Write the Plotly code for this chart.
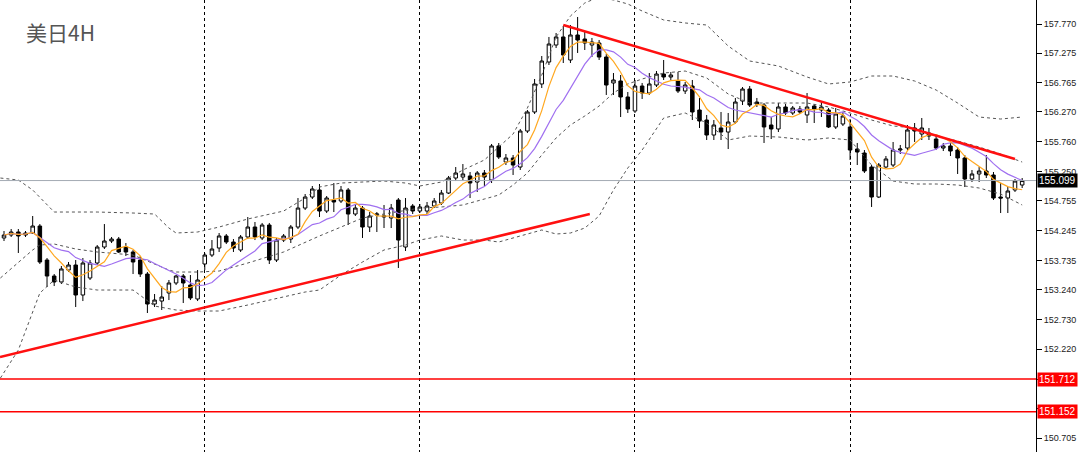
import plotly.graph_objects as go
import pandas as pd

# USD/JPY 4H candles
opens = [154.119, 154.170, 154.221, 154.170, 154.204, 154.323, 153.743, 153.470, 153.368, 153.572,
         153.658, 153.146, 153.436, 153.692, 153.965, 154.067, 154.101, 153.965, 153.880, 153.743,
         153.504, 152.992, 153.043, 153.180, 153.351, 153.470, 153.316, 153.078, 153.675, 153.828,
         153.948, 154.153, 154.050, 153.914, 154.136, 154.306, 154.119, 154.340, 153.743, 154.084,
         154.101, 154.306, 154.630, 154.818, 154.938, 154.579, 154.767, 154.750, 154.938, 154.528,
         154.630, 154.306, 154.511, 154.477, 154.460, 154.767, 153.965, 154.665, 154.579, 154.579,
         154.665, 154.716, 154.886, 155.142, 155.159, 155.177, 155.074, 155.228, 155.108, 155.689,
         155.415, 155.484, 155.330, 155.944, 156.269, 156.747, 157.122, 157.412, 157.549, 157.156,
         157.583, 157.514, 157.412, 157.446, 157.207, 156.764, 156.798, 156.525, 156.286, 156.712,
         156.593, 156.729, 156.917, 156.866, 156.798, 156.627, 156.712, 156.303, 156.132, 155.876,
         155.996, 155.927, 156.098, 156.456, 156.661, 156.439, 156.388, 156.047, 155.979, 156.354,
         156.252, 156.320, 156.218, 156.371, 156.303, 156.303, 156.013, 156.064, 156.013, 155.637,
         155.569, 155.330, 154.818, 155.330, 155.364, 155.620, 155.654, 155.996, 155.893, 155.910,
         155.808, 155.654, 155.689, 155.620, 155.484, 155.125, 155.211, 155.262, 155.194, 154.818,
         154.801, 154.938, 155.023]
highs = [154.238, 154.272, 154.272, 154.238, 154.494, 154.357, 153.777, 153.504, 153.641, 153.709,
         153.743, 153.777, 153.743, 153.999, 154.357, 154.136, 154.136, 154.033, 153.914, 153.811,
         153.538, 153.163, 153.299, 153.402, 153.487, 153.504, 153.487, 153.572, 153.863, 154.084,
         154.204, 154.187, 154.101, 154.170, 154.477, 154.392, 154.375, 154.375, 154.119, 154.187,
         154.340, 154.801, 154.869, 155.006, 155.040, 154.835, 155.057, 155.006, 154.972, 154.682,
         154.665, 154.562, 154.562, 154.682, 154.699, 154.801, 154.801, 154.699, 154.699, 154.733,
         154.801, 154.938, 155.177, 155.330, 155.381, 155.245, 155.262, 155.279, 155.723, 155.740,
         155.552, 155.535, 155.979, 156.303, 156.832, 157.224, 157.549, 157.617, 157.736, 157.753,
         157.890, 157.634, 157.532, 157.497, 157.258, 156.934, 156.900, 156.610, 156.815, 156.764,
         156.934, 156.968, 157.156, 156.951, 156.951, 156.781, 156.815, 156.508, 156.218, 156.132,
         156.269, 156.252, 156.508, 156.695, 156.712, 156.508, 156.422, 156.183, 156.422, 156.405,
         156.371, 156.371, 156.593, 156.405, 156.439, 156.337, 156.337, 156.269, 156.149, 155.740,
         155.620, 155.364, 155.398, 155.518, 155.757, 155.706, 156.047, 156.081, 156.166, 155.996,
         155.876, 155.740, 155.740, 155.671, 155.535, 155.279, 155.330, 155.535, 155.245, 155.057,
         154.989, 155.125, 155.142]
lows = [154.067, 154.136, 153.863, 154.136, 154.187, 153.675, 153.282, 153.299, 153.334, 153.538,
        152.941, 153.043, 153.402, 153.658, 153.931, 154.033, 153.863, 153.811, 153.504, 153.453,
        152.839, 152.941, 152.890, 153.060, 153.316, 153.009, 153.060, 153.043, 153.572, 153.794,
        153.880, 154.016, 153.880, 153.880, 154.101, 154.084, 154.084, 153.675, 153.709, 154.050,
        154.033, 154.272, 154.596, 154.784, 154.477, 154.545, 154.562, 154.716, 154.340, 154.494,
        154.119, 154.221, 154.221, 154.289, 154.289, 153.607, 153.897, 154.528, 154.545, 154.528,
        154.630, 154.682, 154.869, 155.091, 155.108, 154.801, 154.904, 155.006, 155.057, 155.467,
        155.364, 155.194, 155.279, 155.910, 156.235, 156.678, 157.071, 157.361, 157.105, 157.105,
        157.276, 157.327, 157.207, 157.156, 156.559, 156.559, 156.183, 156.252, 156.252, 156.491,
        156.559, 156.695, 156.815, 156.815, 156.593, 156.576, 156.132, 155.996, 155.791, 155.791,
        155.791, 155.637, 156.064, 156.388, 156.354, 156.354, 155.740, 155.808, 155.927, 156.218,
        156.218, 156.235, 156.081, 156.081, 156.183, 155.996, 155.979, 156.030, 155.450, 155.364,
        155.228, 154.648, 154.801, 155.313, 155.330, 155.552, 155.620, 155.757, 155.791, 155.791,
        155.620, 155.603, 155.518, 155.211, 154.989, 155.074, 155.074, 155.142, 154.767, 154.545,
        154.545, 154.904, 154.972]
closes = [154.170, 154.221, 154.153, 154.204, 154.323, 153.709, 153.470, 153.368, 153.590, 153.658,
          153.146, 153.692, 153.692, 153.965, 154.067, 154.101, 153.880, 153.880, 153.709, 153.504,
          152.992, 153.060, 153.112, 153.351, 153.470, 153.351, 153.095, 153.402, 153.828, 153.931,
          154.153, 154.050, 153.948, 154.136, 154.306, 154.136, 154.340, 153.743, 154.084, 154.153,
          154.306, 154.630, 154.818, 154.955, 154.579, 154.801, 154.733, 154.938, 154.528, 154.630,
          154.306, 154.494, 154.528, 154.494, 154.630, 154.084, 154.630, 154.579, 154.648, 154.665,
          154.750, 154.886, 155.142, 155.228, 155.211, 155.057, 155.228, 155.159, 155.689, 155.501,
          155.484, 155.364, 155.944, 156.269, 156.747, 157.139, 157.429, 157.549, 157.241, 157.583,
          157.497, 157.446, 157.463, 157.207, 156.729, 156.815, 156.525, 156.320, 156.712, 156.593,
          156.747, 156.917, 156.866, 156.900, 156.627, 156.729, 156.269, 156.115, 155.876, 156.047,
          155.927, 156.098, 156.439, 156.661, 156.388, 156.405, 156.013, 155.979, 156.354, 156.252,
          156.337, 156.269, 156.354, 156.320, 156.354, 156.013, 156.235, 156.200, 155.620, 155.586,
          155.262, 154.818, 155.364, 155.467, 155.620, 155.637, 155.962, 155.944, 155.996, 155.859,
          155.654, 155.689, 155.603, 155.484, 155.125, 155.211, 155.262, 155.194, 154.801, 154.801,
          154.921, 155.091, 155.099]
bar_idx = list(range(len(closes)))

# Bollinger bands (dotted), sampled along the chart
band_idx = [-0.5, 2, 4, 5, 7, 10, 13, 18, 21, 23, 24, 27, 30, 34, 39, 42, 44, 47, 50, 53,
            56, 58, 61, 64, 67, 69, 71, 73, 75, 77, 79, 81, 83, 85, 87, 89, 92, 95, 98, 101,
            104, 108, 112, 115, 118, 121, 124, 127, 130, 133, 136, 139, 142]
bb_upper = [155.142, 155.108, 154.938, 154.818, 154.562, 154.562, 154.562, 154.545, 154.528, 154.289,
            154.204, 154.221, 154.306, 154.443, 154.579, 154.801, 154.989, 155.057, 155.074, 155.091,
            155.057, 155.006, 155.074, 155.279, 155.450, 155.671, 155.893, 156.337, 156.900, 157.549,
            157.907, 158.129, 158.231, 158.180, 158.112, 157.992, 157.839, 157.788, 157.753, 157.395,
            157.139, 157.054, 156.866, 156.747, 156.781, 156.883, 156.883, 156.798, 156.644, 156.422,
            156.183, 156.149, 156.183]
bb_mid = [153.436, 153.709, 153.914, 153.999, 154.016, 153.931, 153.880, 153.828, 153.675, 153.572,
          153.538, 153.538, 153.555, 153.692, 153.880, 154.050, 154.153, 154.306, 154.460, 154.528,
          154.596, 154.630, 154.648, 154.682, 154.784, 154.852, 155.023, 155.228, 155.535, 155.825,
          156.047, 156.200, 156.371, 156.593, 156.747, 156.832, 156.934, 156.968, 156.849, 156.576,
          156.422, 156.422, 156.422, 156.354, 156.252, 156.132, 156.030, 155.996, 155.859, 155.774,
          155.671, 155.552, 155.415]
bb_lower = [151.729, 152.207, 152.856, 153.180, 153.402, 153.282, 153.231, 153.231, 152.958, 152.907,
            152.890, 152.873, 152.873, 152.975, 153.112, 153.197, 153.231, 153.487, 153.709, 153.914,
            153.999, 154.084, 154.153, 154.084, 154.084, 154.050, 154.119, 154.187, 154.255, 154.187,
            154.204, 154.289, 154.494, 154.938, 155.313, 155.620, 156.166, 156.252, 156.081, 155.791,
            155.859, 155.842, 155.791, 155.825, 155.791, 155.364, 155.091, 155.040, 155.040, 155.023,
            154.972, 154.869, 154.682]

# hand drawn trend lines and levels
support_idx = [-0.56, 81.7]
support_px = [152.088, 154.528]
resist_idx = [78.0, 141.0]
resist_px = [157.753, 155.467]
levels = [151.712, 151.152]
last_price = 155.099

tick_vals = [157.770, 157.275, 156.765, 156.270, 155.760, 155.250, 154.755, 154.245,
             153.735, 153.240, 152.730, 152.220, 151.710, 151.215, 150.705]
# the two labels under the red level tags are hidden in the original
tick_text = ['' if v in (151.710, 151.215) else '%.3f' % v for v in tick_vals]
grid_idx = [28, 58, 88, 118]

df = pd.DataFrame({'idx': bar_idx, 'open': opens, 'high': highs, 'low': lows, 'close': closes})
df['ma_fast'] = df['close'].rolling(5, min_periods=1).mean()
df['ma_slow'] = df['close'].rolling(10, min_periods=1).mean()

fig = go.Figure()

dash = '3px,3px'
for band in (bb_upper, bb_mid, bb_lower):
    fig.add_trace(go.Scatter(x=band_idx, y=band, mode='lines',
                             line=dict(color='#555555', width=1, dash=dash),
                             hoverinfo='skip'))

fig.add_hline(y=last_price, line=dict(color='#a3abb3', width=1))
for lv in levels:
    fig.add_hline(y=lv, line=dict(color='#ff0000', width=1.5))

fig.add_trace(go.Scatter(x=df['idx'], y=df['ma_slow'], mode='lines',
                         line=dict(color='#a070f0', width=1.2), hoverinfo='skip'))
fig.add_trace(go.Scatter(x=df['idx'], y=df['ma_fast'], mode='lines',
                         line=dict(color='#ffa820', width=1.2), hoverinfo='skip'))

fig.add_trace(go.Candlestick(
    x=df['idx'], open=df['open'], high=df['high'], low=df['low'], close=df['close'],
    increasing=dict(line=dict(color='black', width=1), fillcolor='white'),
    decreasing=dict(line=dict(color='black', width=1), fillcolor='black'),
    whiskerwidth=0, hoverinfo='skip'))

fig.add_trace(go.Scatter(x=support_idx, y=support_px, mode='lines',
                         line=dict(color='#ff1010', width=2.5), hoverinfo='skip'))
fig.add_trace(go.Scatter(x=resist_idx, y=resist_px, mode='lines',
                         line=dict(color='#ff1010', width=2.5), hoverinfo='skip'))

# price tags on the axis
tags = [(last_price, '#000000')] + [(lv, '#ff0000') for lv in levels]
for val, col in tags:
    fig.add_annotation(x=1, xref='paper', y=val, yref='y', xanchor='left', xshift=1,
                       text='%.3f' % val, showarrow=False, bgcolor=col, borderpad=1,
                       font=dict(color='white', size=10, family='Liberation Sans'))

fig.add_annotation(x=24 / 1036, xref='paper', y=1 - 32 / 452, yref='paper',
                   xanchor='left', yanchor='middle', text='美日4H', showarrow=False,
                   font=dict(size=21, color='#555555', family='Noto Sans CJK SC'))

fig.update_layout(
    width=1080, height=452,
    margin=dict(l=0, r=44, t=0, b=0),
    paper_bgcolor='white', plot_bgcolor='white',
    showlegend=False,
    xaxis=dict(range=[-0.558, 143.93], tickvals=grid_idx, showticklabels=False,
               showgrid=True, gridcolor='black', griddash=dash, gridwidth=1,
               zeroline=False, showline=False, ticks='',
               rangeslider=dict(visible=False)),
    yaxis=dict(range=[150.467, 158.18], side='right', tickvals=tick_vals, ticktext=tick_text,
               showgrid=False, zeroline=False, showline=True, linecolor='black', linewidth=1,
               ticks='outside', ticklen=5, tickcolor='black',
               tickfont=dict(size=9, color='#222222', family='Liberation Sans')),
)

fig.write_html('out.html', config={'displayModeBar': False},
               post_script="document.body.style.margin='0';document.body.style.overflow='hidden';")
